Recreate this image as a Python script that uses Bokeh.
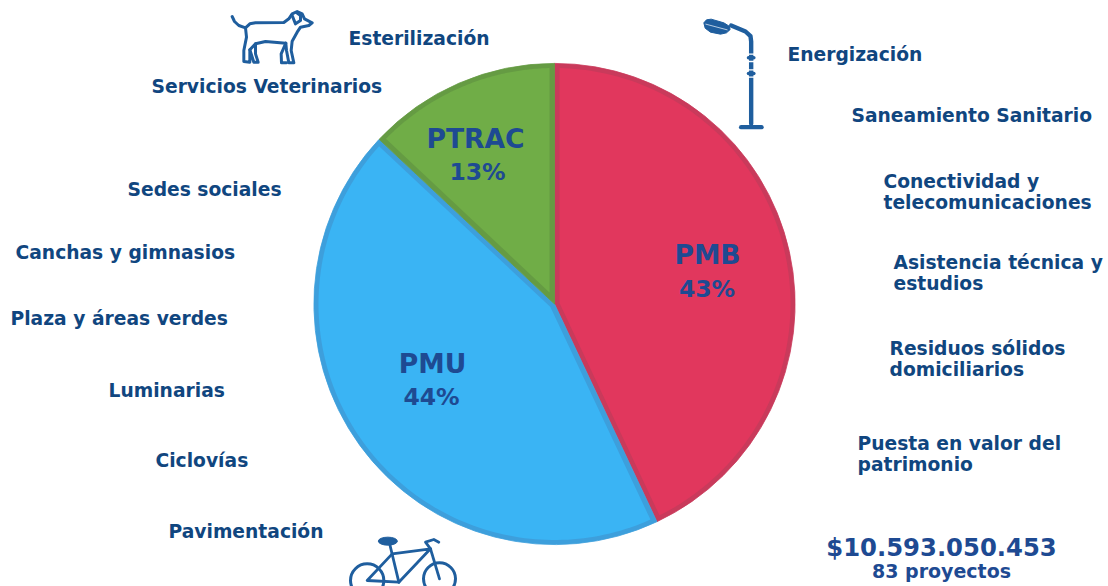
from math import pi, sin, cos, asin
from bokeh.plotting import figure
from bokeh.models import Range1d
from bokeh.core.properties import value
from bokeh.embed import file_html
from bokeh.resources import INLINE

# ---- data ----
programs = ["PMB", "PMU", "PTRAC"]
shares = [43, 44, 13]
share_labels = ["43%", "44%", "13%"]
fills = ["#E1375D", "#3AB4F4", "#70AD47"]
borders = ["#C93A5B", "#3D9FDC", "#659B43"]

left_items = ["Servicios Veterinarios", "Sedes sociales", "Canchas y gimnasios",
              "Plaza y áreas verdes", "Luminarias", "Ciclovías", "Pavimentación"]
right_items = ["Esterilización", "Energización", "Saneamiento Sanitario", "Conectividad y",
               "telecomunicaciones", "Asistencia técnica y", "estudios", "Residuos sólidos",
               "domiciliarios", "Puesta en valor del", "patrimonio"]
total_amount = "$10.593.050.453"
total_projects = "83 proyectos"

# ---- layout (page pixels) ----
CX, CY, R = 554, 303.5, 241
BW = 5
left_pos = [(151, 86), (127, 189), (15, 252), (10, 318), (108, 390), (155, 460), (168, 531)]
right_pos = [(348, 38), (787, 54), (851, 115), (883, 181), (883, 202), (893, 262), (893, 283),
             (889, 348), (889, 369), (857, 443), (857, 464)]
name_pos = [(707, 254), (432, 363), (475, 138)]
pct_pos = [(706.5, 288), (431, 396), (477, 171)]

NAVY = "#10467F"
LABEL = "#1E4A92"
ICON = "#1F5E9E"

p = figure(width=1108, height=586, x_range=Range1d(0, 1108), y_range=Range1d(-586, 0),
           output_backend="svg", toolbar_location=None, min_border=0,
           outline_line_color=None, background_fill_color="white", border_fill_color="white")
p.axis.visible = False
p.grid.visible = False

# pie, clockwise from the top: a slice in the border colour, then its fill inset by BW
start = pi / 2
total = sum(shares)
for s, f, b in zip(shares, fills, borders):
    sweep = 2 * pi * s / total
    end = start - sweep
    p.wedge(x=[CX], y=[-CY], radius=R - 0.4, start_angle=end, end_angle=start,
            fill_color=b, line_color=b, line_width=0.8)
    mid = (start + end) / 2
    apex = BW / sin(sweep / 2)
    inner = R - BW
    delta = asin(BW / inner)
    steps = 120
    angles = [start - delta - (sweep - 2 * delta) * i / steps for i in range(steps + 1)]
    xs = [CX + apex * cos(mid)] + [CX + inner * cos(a) for a in angles]
    ys = [-CY + apex * sin(mid)] + [-CY + inner * sin(a) for a in angles]
    p.patch(xs, ys, fill_color=f, line_color=None)
    start = end


def txt(items, pos, size, color, align="left"):
    p.text(x=[q[0] for q in pos], y=[-q[1] for q in pos], text=items,
           text_font=value("DejaVu Sans"), text_font_style="bold", text_font_size=size,
           text_color=color, text_align=align, text_baseline="middle")


txt(left_items, left_pos, "18.7px", NAVY)
txt(right_items, right_pos, "18.7px", NAVY)
txt(programs, name_pos, "26.6px", LABEL, "center")
txt(share_labels, pct_pos, "23.5px", LABEL, "center")
txt([total_amount], [(941, 547)], "24.3px", LABEL, "center")
txt([total_projects], [(941, 570)], "19px", LABEL, "center")


# ---- icons, traced in zoomed-crop coordinates ----
def stroke(points, ox, oy, w, color=ICON):
    p.line([ox + a / 3 for a, _ in points], [-(oy + c / 3) for _, c in points],
           line_color=color, line_width=w, line_cap="round", line_join="round")


dog = [
    [(35, 48), (42, 63), (55, 75), (75, 82), (88, 70), (105, 67), (190, 66), (205, 55), (215, 40),
     (230, 33), (245, 40), (252, 55), (275, 67), (265, 75), (240, 80), (230, 95), (215, 122),
     (212, 150), (220, 187), (205, 187), (198, 150), (196, 128), (135, 123), (105, 130), (88, 148)],
    [(75, 82), (78, 110), (70, 150), (70, 183), (88, 185), (88, 148), (100, 185), (113, 185), (105, 160), (105, 130)],
    [(196, 128), (182, 160), (183, 187), (198, 187)],
    [(215, 45), (225, 70), (240, 60), (240, 45), (228, 36)],
]
for d in dog:
    stroke(d, 220, 0, 3)

# street lamp
lamp_head = [(40, 52), (48, 43), (62, 41), (100, 52), (116, 62), (119, 72), (108, 82), (90, 86), (60, 80), (44, 68)]
p.patch([690 + a / 3 for a, _ in lamp_head], [-(5 + c / 3) for _, c in lamp_head],
        fill_color=ICON, line_color=ICON, line_width=1)
stroke([(46, 56), (110, 73)], 690, 5, 0.8, "#DCE7F2")
stroke([(122, 60), (165, 78), (180, 92), (182, 108), (182, 355)], 690, 5, 4.4)
for ring in (157, 204):
    stroke([(172, ring - 11), (192, ring - 11)], 690, 5, 1.4, "#FFFFFF")
    stroke([(172, ring + 11), (192, ring + 11)], 690, 5, 1.4, "#FFFFFF")
    stroke([(174, ring), (190, ring)], 690, 5, 3.5)
stroke([(152, 365), (213, 365)], 690, 5, 4.4)

# bicycle
for wx, wy, wr in ((80, 180, 50), (297, 175, 48)):
    p.ellipse(x=[340 + wx / 3], y=[-(520 + wy / 3)], width=2 * wr / 3, height=2 * wr / 3,
              fill_color=None, line_color=ICON, line_width=3)
p.ellipse(x=[340 + 142 / 3], y=[-(520 + 62 / 3)], width=19, height=8, fill_color=ICON, line_color=ICON)
for seg in ([(148, 72), (175, 185)], [(155, 100), (270, 85), (175, 185)], [(155, 100), (80, 180), (175, 185)],
            [(270, 85), (297, 175)], [(270, 85), (255, 65), (280, 57), (295, 65)]):
    stroke(seg, 340, 520, 2.8)

open("out.html", "w").write(file_html(p, INLINE))
